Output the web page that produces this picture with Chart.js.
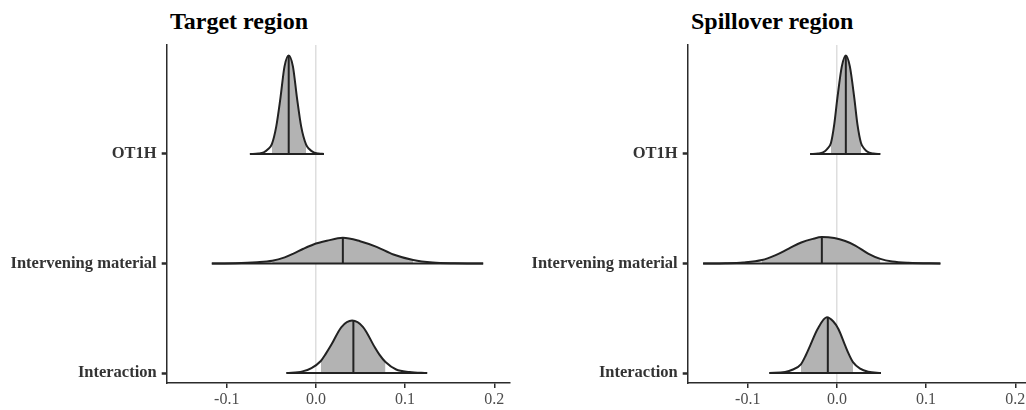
<!DOCTYPE html>
<html>
<head>
<meta charset="utf-8">
<script src="https://cdn.jsdelivr.net/npm/chart.js@4.4.1/dist/chart.umd.min.js"></script>
<style>
  html, body { margin: 0; padding: 0; background: #fff; overflow: hidden; width: 1026px; height: 410px; }
  .panel { position: absolute; top: 0; width: 521px; height: 410px; }
  .panel h2 { position: absolute; margin: 0; top: 9px; left: 170px; font: bold 24px "Liberation Serif", serif; line-height: 24px; color: #000; white-space: nowrap; }
  .panel canvas { position: absolute; left: 0; top: 0; }
</style>
</head>
<body>
<div class="panel" style="left:0px">
  <h2>Target region</h2>
  <canvas id="target" width="521" height="410"></canvas>
</div>
<div class="panel" style="left:521px">
  <h2>Spillover region</h2>
  <canvas id="spill" width="521" height="410"></canvas>
</div>
<script>
// rows, bottom to top
const rowNames = ["Interaction", "Intervening material", "OT1H"]
const rowPos = [0, 1, 2]
const xTickValues = [-0.1, 0, 0.1, 0.2]
const xTickLabels = ["-0.1", "0.0", "0.1", "0.2"]
const xMin = -0.1673, xMax = 0.2176
const yMin = -0.091, yMax = 2.995

// Target region: density heights (in row units)
const tgtOT1H_x = [-0.074, -0.0645, -0.0585, -0.0535, -0.0494, -0.0445, -0.0398, -0.0352, -0.0305, -0.0258, -0.0212, -0.0165, -0.011, -0.0075, -0.0025, 0.003, 0.009]
const tgtOT1H_h = [0, 0.004, 0.015, 0.045, 0.09, 0.25, 0.51, 0.80, 0.90, 0.80, 0.51, 0.25, 0.085, 0.045, 0.015, 0.004, 0]
const tgtOT1H_ci = [-0.0494, -0.011]
const tgtOT1H_med = [-0.0305, 0.90]

const tgtInter_x = [-0.1167, -0.09, -0.066, -0.049, -0.035, -0.0252, -0.014, -0.0028, 0.0122, 0.0302, 0.0495, 0.068, 0.0869, 0.109, 0.131, 0.155, 0.1875]
const tgtInter_h = [0, 0.002, 0.011, 0.025, 0.056, 0.09, 0.135, 0.174, 0.207, 0.235, 0.204, 0.152, 0.082, 0.032, 0.009, 0.002, 0]
const tgtInter_ci = [-0.049, 0.109]
const tgtInter_med = [0.0302, 0.235]

const tgtIxn_x = [-0.033, -0.015, -0.005, 0.0055, 0.011, 0.0174, 0.0286, 0.0406, 0.0529, 0.066, 0.071, 0.078, 0.09, 0.105, 0.1247]
const tgtIxn_h = [0, 0.015, 0.045, 0.11, 0.175, 0.26, 0.42, 0.479, 0.42, 0.235, 0.17, 0.10, 0.032, 0.01, 0]
const tgtIxn_ci = [0.0055, 0.078]
const tgtIxn_med = [0.042, 0.478]

// Spillover region
const spOT1H_x = [-0.030, -0.021, -0.0155, -0.011, -0.0067, -0.003, 0.0005, 0.0055, 0.010, 0.0145, 0.0195, 0.023, 0.027, 0.031, 0.0355, 0.041, 0.0486]
const spOT1H_h = [0, 0.004, 0.015, 0.045, 0.10, 0.27, 0.51, 0.80, 0.90, 0.80, 0.51, 0.27, 0.10, 0.045, 0.015, 0.004, 0]
const spOT1H_ci = [-0.0067, 0.027]
const spOT1H_med = [0.010, 0.90]

const spInter_x = [-0.150, -0.125, -0.105, -0.084, -0.070, -0.054, -0.040, -0.027, -0.0169, -0.003, 0.0093, 0.0206, 0.0355, 0.0487, 0.062, 0.08, 0.116]
const spInter_h = [0, 0.0025, 0.01, 0.032, 0.072, 0.136, 0.192, 0.225, 0.241, 0.232, 0.205, 0.164, 0.088, 0.042, 0.018, 0.006, 0]
const spInter_ci = [-0.084, 0.0487]
const spInter_med = [-0.0169, 0.240]

const spIxn_x = [-0.0757, -0.058, -0.050, -0.0404, -0.035, -0.030, -0.0218, -0.0112, -0.004, 0.0018, 0.0093, 0.0135, 0.018, 0.026, 0.035, 0.0494]
const spIxn_h = [0, 0.01, 0.03, 0.08, 0.16, 0.25, 0.40, 0.509, 0.47, 0.40, 0.25, 0.17, 0.10, 0.04, 0.012, 0]
const spIxn_ci = [-0.0404, 0.018]
const spIxn_med = [-0.0102, 0.508]

const lineColor = "#222222"
const fillColor = "#b3b3b3"
const axisColor = "#2b2b2b"
const serif = "'Liberation Serif', 'DejaVu Serif', serif"

function ridge(row, xs, hs, ci, med) {
  const pts = xs.map((x, i) => ({ x: x, y: row + hs[i] }))
  const shade = pts.filter(p => p.x >= ci[0] - 1e-9 && p.x <= ci[1] + 1e-9)
  return [
    { data: shade, fill: { value: row }, backgroundColor: fillColor, borderColor: "rgba(0,0,0,0)", borderWidth: 0,
      cubicInterpolationMode: "monotone", pointRadius: 0, order: 3 },
    { data: pts, fill: false, borderColor: lineColor, borderWidth: 2, cubicInterpolationMode: "monotone",
      pointRadius: 0, order: 1 },
    { data: [{ x: xs[0], y: row }, { x: xs[xs.length - 1], y: row }], fill: false, borderColor: lineColor,
      borderWidth: 2, tension: 0, pointRadius: 0, order: 1 },
    { data: [{ x: med[0], y: row }, { x: med[0], y: row + med[1] }], fill: false, borderColor: lineColor,
      borderWidth: 2, tension: 0, pointRadius: 0, order: 1 }
  ]
}

function makePanel(el, datasets) {
  return new Chart(document.getElementById(el), {
    type: "line",
    data: { datasets: datasets },
    options: {
      responsive: false,
      animation: false,
      devicePixelRatio: 1,
      layout: { padding: { top: 45, right: 11, left: 0, bottom: 0 } },
      plugins: { legend: { display: false }, tooltip: { enabled: false }, title: { display: false } },
      scales: {
        x: {
          type: "linear", min: xMin, max: xMax,
          afterBuildTicks: s => { s.ticks = xTickValues.map(v => ({ value: v })) },
          afterFit: s => { s.height = 27 },
          ticks: {
            callback: v => xTickLabels[xTickValues.indexOf(v)],
            font: { family: serif, size: 16 }, color: "#4d4d4d", padding: 2, maxRotation: 0, autoSkip: false
          },
          grid: {
            color: ctx => (ctx.tick && ctx.tick.value === 0) ? "#dedede" : "rgba(0,0,0,0)",
            lineWidth: 1.5, tickLength: 5, tickColor: axisColor, tickWidth: 1.5
          },
          border: { display: true, color: axisColor, width: 1.5 }
        },
        y: {
          type: "linear", min: yMin, max: yMax,
          afterBuildTicks: s => { s.ticks = rowPos.map(v => ({ value: v })) },
          afterFit: s => { s.width = 166.7 },
          ticks: {
            callback: v => rowNames[rowPos.indexOf(v)],
            font: { family: serif, size: 16.5, weight: "bold" }, color: "#333333", padding: 5, autoSkip: false
          },
          grid: { drawOnChartArea: false, tickLength: 5, tickColor: axisColor, tickWidth: 2.5 },
          border: { display: true, color: axisColor, width: 1.5 }
        }
      }
    }
  })
}

makePanel("target", [].concat(
  ridge(2, tgtOT1H_x, tgtOT1H_h, tgtOT1H_ci, tgtOT1H_med),
  ridge(1, tgtInter_x, tgtInter_h, tgtInter_ci, tgtInter_med),
  ridge(0, tgtIxn_x, tgtIxn_h, tgtIxn_ci, tgtIxn_med)
))
makePanel("spill", [].concat(
  ridge(2, spOT1H_x, spOT1H_h, spOT1H_ci, spOT1H_med),
  ridge(1, spInter_x, spInter_h, spInter_ci, spInter_med),
  ridge(0, spIxn_x, spIxn_h, spIxn_ci, spIxn_med)
))
</script>
</body>
</html>
